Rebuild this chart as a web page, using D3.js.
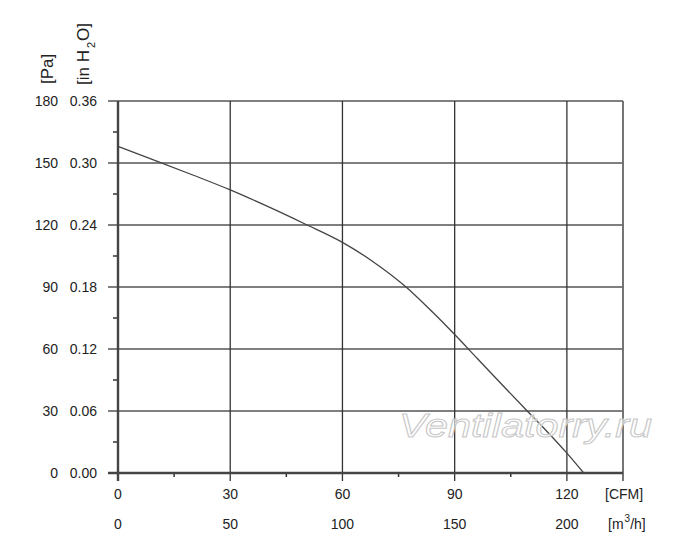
<!DOCTYPE html>
<html>
<head>
<meta charset="utf-8">
<script src="https://cdn.jsdelivr.net/npm/d3@7"></script>
<style>
  body { margin: 0; background: #fff; }
  svg { display: block; font-family: "Liberation Sans", Arial, sans-serif; }
</style>
</head>
<body>
<script>
// fan curve (CFM vs Pa)
var flowCfm = [0, 10, 20, 30, 40, 50, 60, 68, 77, 84, 90, 96, 102, 109.4, 115, 120, 124.5];
var pressPa = [158, 151.2, 144.2, 137, 129, 120.5, 111.6, 102.5, 90, 78, 67, 55.5, 44, 30, 19.5, 9.6, 0];

var cfmTicks = [0, 30, 60, 90, 120];
var m3hLabels = ["0", "50", "100", "150", "200"];
var paTicks = [0, 30, 60, 90, 120, 150, 180];
var inH2OLabels = ["0.00", "0.06", "0.12", "0.18", "0.24", "0.30", "0.36"];
var cfmMinor = [15, 45, 75, 105];
var paMinor = [15, 45, 75, 105, 135, 165];

var width = 700, height = 552;

var x = d3.scaleLinear().domain([0, 135]).range([118, 623]);
var y = d3.scaleLinear().domain([0, 180]).range([473, 101]);

var svg = d3.select("body").append("svg")
  .attr("width", width)
  .attr("height", height);

// horizontal grid (extends a bit left of the axis like ticks)
svg.append("g").selectAll("line").data(paTicks.slice(1)).join("line")
  .attr("x1", 108).attr("x2", x(135))
  .attr("y1", d => y(d)).attr("y2", d => y(d))
  .attr("stroke", "#555").attr("stroke-width", 1.6);

// vertical grid
svg.append("g").selectAll("line").data(cfmTicks.slice(1)).join("line")
  .attr("x1", d => x(d)).attr("x2", d => x(d))
  .attr("y1", y(180)).attr("y2", y(0) + 8)
  .attr("stroke", "#333").attr("stroke-width", 1.3);

// right border
svg.append("line")
  .attr("x1", x(135)).attr("x2", x(135))
  .attr("y1", y(180)).attr("y2", y(0) + 8)
  .attr("stroke", "#666").attr("stroke-width", 1.8);

// minor ticks
svg.append("g").selectAll("line").data(paMinor).join("line")
  .attr("x1", 113).attr("x2", 118)
  .attr("y1", d => y(d)).attr("y2", d => y(d))
  .attr("stroke", "#333").attr("stroke-width", 1.5);
svg.append("g").selectAll("line").data(cfmMinor).join("line")
  .attr("x1", d => x(d)).attr("x2", d => x(d))
  .attr("y1", y(0)).attr("y2", y(0) + 4)
  .attr("stroke", "#333").attr("stroke-width", 1.5);

// axes
svg.append("line")
  .attr("x1", 108).attr("x2", x(135))
  .attr("y1", y(0)).attr("y2", y(0))
  .attr("stroke", "#444").attr("stroke-width", 2.4);
svg.append("line")
  .attr("x1", x(0)).attr("x2", x(0))
  .attr("y1", y(180)).attr("y2", y(0) + 8)
  .attr("stroke", "#444").attr("stroke-width", 2.4);

// curve
var line = d3.line()
  .x((d, i) => x(flowCfm[i]))
  .y(d => y(d))
  .curve(d3.curveMonotoneX);
svg.append("path")
  .datum(pressPa)
  .attr("d", line)
  .attr("fill", "none")
  .attr("stroke", "#444")
  .attr("stroke-width", 1.3);

// y tick labels
var ylab = svg.append("g").attr("font-size", 14).attr("fill", "#222");
ylab.selectAll(".pa").data(paTicks).join("text")
  .attr("x", 58).attr("y", d => y(d) + 5.2)
  .attr("text-anchor", "end")
  .text(d => d);
ylab.selectAll(".in").data(paTicks).join("text")
  .attr("x", 97).attr("y", d => y(d) + 5.2)
  .attr("text-anchor", "end")
  .text((d, i) => inH2OLabels[i]);

// x tick labels
var xlab = svg.append("g").attr("font-size", 14).attr("fill", "#222").attr("text-anchor", "middle");
xlab.selectAll(".cfm").data(cfmTicks).join("text")
  .attr("x", d => x(d)).attr("y", 499)
  .text(d => d);
xlab.selectAll(".m3").data(cfmTicks).join("text")
  .attr("x", d => x(d)).attr("y", 529)
  .text((d, i) => m3hLabels[i]);

svg.append("text")
  .attr("x", 605).attr("y", 499)
  .attr("font-size", 14).attr("fill", "#222")
  .text("[CFM]");
var m3 = svg.append("text")
  .attr("x", 608).attr("y", 529)
  .attr("font-size", 14).attr("fill", "#222");
m3.append("tspan").text("[m");
m3.append("tspan").attr("font-size", 10).attr("dy", -7).attr("dx", 1).text("3");
m3.append("tspan").attr("dy", 7).text("/h]");

// y axis titles
svg.append("text")
  .attr("transform", "translate(53,84) rotate(-90)")
  .attr("font-size", 17).attr("fill", "#222")
  .text("[Pa]");
var h2o = svg.append("text")
  .attr("transform", "translate(89,85) rotate(-90)")
  .attr("font-size", 17).attr("fill", "#222");
h2o.append("tspan").text("[in H");
h2o.append("tspan").attr("font-size", 11).attr("dy", 6).attr("dx", 2).text("2");
h2o.append("tspan").attr("dy", -6).attr("dx", 1).text("O]");

// watermark
svg.append("text")
  .attr("x", 399).attr("y", 437)
  .attr("font-size", 34).attr("font-style", "italic")
  .attr("textLength", 253).attr("lengthAdjust", "spacingAndGlyphs")
  .attr("fill", "#fff").attr("fill-opacity", 0.6)
  .attr("stroke", "#c8c8c8").attr("stroke-width", 1)
  .text("Ventilatorry.ru");
</script>
</body>
</html>
